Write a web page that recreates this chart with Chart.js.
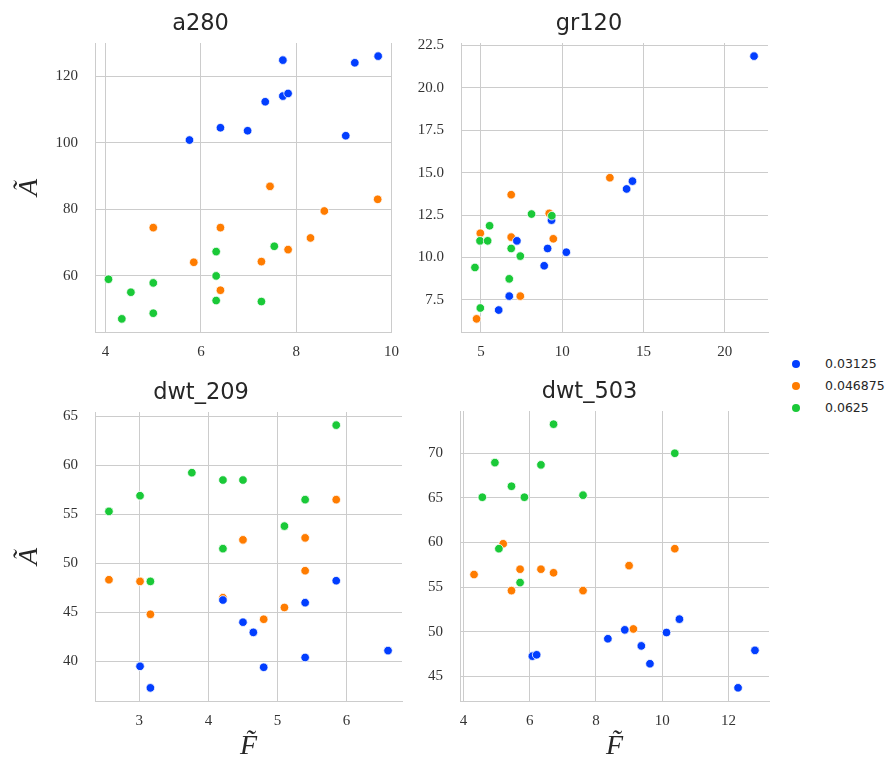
<!DOCTYPE html>
<html>
<head>
<meta charset="utf-8">
<script src="https://cdn.jsdelivr.net/npm/chart.js@4.4.1/dist/chart.umd.min.js"></script>
<style>
    body { margin: 0; background: #ffffff; }
    #figure { position: relative; width: 891px; height: 763px; overflow: hidden; background: #ffffff; }
    #figure canvas { position: absolute; }
    .legend-row { position: absolute; font: 12.5px "DejaVu Sans", sans-serif; color: #262626; line-height: 16px; white-space: nowrap; }
    .legend-dot { position: absolute; width: 8px; height: 8px; border-radius: 50%; }
</style>
</head>
<body>
<div id="figure"></div>
<script>
// hue levels of the legend and their colours (seaborn "bright")
const seriesNames = ['0.03125', '0.046875', '0.0625'];
const seriesColors = ['#023eff', '#ff7c00', '#1ac938'];
const drawOrder = [1, 2, 0];

// a280
const a280Blue = [[5.76, 100.8], [6.41, 104.5], [6.98, 103.6], [7.35, 112.3], [7.72, 124.8], [7.72, 114.0], [7.83, 114.8], [9.04, 102.1], [9.23, 124.0], [9.72, 126.0]];
const a280Orange = [[5.0, 74.5], [5.85, 64.1], [6.41, 74.5], [6.41, 55.7], [7.27, 64.3], [7.45, 86.9], [7.83, 67.9], [8.30, 71.4], [8.59, 79.5], [9.71, 83.0]];
const a280Green = [[4.06, 59.0], [4.53, 55.1], [4.34, 47.1], [5.0, 57.9], [5.0, 48.8], [6.32, 67.3], [6.32, 60.0], [6.32, 52.6], [7.27, 52.3], [7.54, 68.9]];
const a280XTicks = [4, 6, 8, 10];
const a280YTicks = [60, 80, 100, 120];

// gr120
const gr120Blue = [[21.80, 21.87], [13.96, 14.04], [14.32, 14.5], [7.21, 10.98], [9.34, 12.2], [9.10, 10.53], [10.25, 10.31], [8.89, 9.51], [6.74, 7.72], [6.09, 6.90]];
const gr120Orange = [[12.93, 14.7], [6.86, 13.7], [4.96, 11.43], [6.86, 11.2], [9.2, 12.6], [9.45, 11.1], [7.42, 7.72], [4.73, 6.38]];
const gr120Green = [[5.53, 11.87], [4.94, 10.98], [5.41, 10.98], [8.11, 12.56], [9.36, 12.46], [6.86, 10.53], [7.42, 10.08], [4.63, 9.41], [6.74, 8.74], [4.96, 7.02]];
const gr120XTicks = [5, 10, 15, 20];
const gr120YTicks = [7.5, 10, 12.5, 15, 17.5, 20, 22.5];

// dwt_209
const dwt209Blue = [[3.01, 39.5], [3.16, 37.3], [4.21, 46.26], [4.50, 44.0], [4.65, 42.96], [4.80, 39.4], [5.40, 40.4], [5.40, 45.99], [5.85, 48.23], [6.60, 41.1]];
const dwt209Orange = [[2.56, 48.33], [3.01, 48.16], [3.16, 44.8], [4.21, 46.5], [4.50, 52.4], [4.80, 44.3], [5.10, 45.5], [5.40, 52.6], [5.40, 49.25], [5.85, 56.5]];
const dwt209Green = [[2.56, 55.3], [3.01, 56.9], [3.16, 48.16], [3.76, 59.25], [4.21, 58.5], [4.50, 58.5], [4.21, 51.5], [5.10, 53.8], [5.40, 56.5], [5.85, 64.1]];
const dwt209XTicks = [3, 4, 5, 6];
const dwt209YTicks = [40, 45, 50, 55, 60, 65];

// dwt_503
const dwt503Blue = [[6.08, 47.25], [6.21, 47.4], [8.36, 49.2], [8.87, 50.2], [9.37, 48.4], [9.63, 46.4], [10.13, 49.9], [10.52, 51.4], [12.29, 43.7], [12.80, 47.9]];
const dwt503Orange = [[4.32, 56.4], [5.2, 59.85], [5.45, 54.6], [5.71, 57.0], [6.34, 57.0], [6.72, 56.6], [7.61, 54.6], [9.0, 57.4], [9.13, 50.3], [10.38, 59.3]];
const dwt503Green = [[6.72, 73.26], [4.95, 68.95], [6.34, 68.7], [5.45, 66.3], [4.57, 65.07], [5.84, 65.07], [7.61, 65.3], [10.38, 70.0], [5.07, 59.3], [5.71, 55.5]];
const dwt503XTicks = [4, 6, 8, 10, 12];
const dwt503YTicks = [45, 50, 55, 60, 65, 70];

const xLabel = 'F\u0303';
const yLabel = '\u00C3';

// box = canvas [left, top, right, bottom], plot = plot area [left, top, right, bottom]
const panels = [
    { title: 'a280', series: [a280Blue, a280Orange, a280Green], xTicks: a280XTicks, yTicks: a280YTicks, decimals: 0,
      box: [0, 0, 410, 370], plot: [95, 43, 401, 332], showY: true, showX: false },
    { title: 'gr120', series: [gr120Blue, gr120Orange, gr120Green], xTicks: gr120XTicks, yTicks: gr120YTicks, decimals: 1,
      box: [410, 0, 780, 370], plot: [461, 43, 768, 332], showY: false, showX: false },
    { title: 'dwt_209', series: [dwt209Blue, dwt209Orange, dwt209Green], xTicks: dwt209XTicks, yTicks: dwt209YTicks, decimals: 0,
      box: [0, 370, 410, 763], plot: [95, 412, 402, 701], showY: true, showX: true },
    { title: 'dwt_503', series: [dwt503Blue, dwt503Orange, dwt503Green], xTicks: dwt503XTicks, yTicks: dwt503YTicks, decimals: 0,
      box: [410, 370, 780, 763], plot: [460, 411, 769, 701], showY: false, showX: true }
];

const TITLE_SIZE = 22.5;
const TITLE_PAD = 5;
const titleHeight = TITLE_SIZE * 1.2 + TITLE_PAD * 2;
const gridColor = '#cccccc';
const tickFont = { family: '"Liberation Serif", serif', size: 15 };
const labelFont = { family: '"Liberation Serif", serif', size: 28, style: 'italic' };

function paddedRange(series, key) {
    const values = [];
    series.forEach(function (pts) {
        pts.forEach(function (p) { values.push(p[key]); });
    });
    const lo = Math.min.apply(null, values);
    const hi = Math.max.apply(null, values);
    const margin = (hi - lo) * 0.05;
    return [lo - margin, hi + margin];
}

const figure = document.getElementById('figure');

panels.forEach(function (panel) {
    const [bl, bt, br, bb] = panel.box;
    const [pl, pt, pr, pb] = panel.plot;
    const canvas = document.createElement('canvas');
    canvas.width = br - bl;
    canvas.height = bb - bt;
    canvas.style.left = bl + 'px';
    canvas.style.top = bt + 'px';
    figure.appendChild(canvas);

    const xRange = paddedRange(panel.series, 0);
    const yRange = paddedRange(panel.series, 1);
    const yWidth = pl - bl;
    const xHeight = bb - pb;

    new Chart(canvas, {
        type: 'scatter',
        data: {
            datasets: panel.series.map(function (pts, i) {
                return {
                    label: seriesNames[i],
                    data: pts.map(function (p) { return { x: p[0], y: p[1] }; }),
                    backgroundColor: seriesColors[i],
                    borderColor: '#ffffff',
                    borderWidth: 0.8,
                    pointRadius: 4.3,
                    pointHoverRadius: 4.3,
                    order: drawOrder[i]
                };
            })
        },
        options: {
            responsive: false,
            animation: false,
            events: [],
            layout: {
                padding: { left: 0, right: br - pr, top: pt - bt - titleHeight, bottom: 0 }
            },
            plugins: {
                legend: { display: false },
                tooltip: { enabled: false },
                title: {
                    display: true,
                    text: panel.title,
                    color: '#262626',
                    font: { family: '"DejaVu Sans", sans-serif', size: TITLE_SIZE, weight: 'normal' },
                    padding: { top: TITLE_PAD, bottom: TITLE_PAD }
                }
            },
            scales: {
                x: {
                    type: 'linear',
                    min: xRange[0],
                    max: xRange[1],
                    afterBuildTicks: function (scale) {
                        scale.ticks = panel.xTicks.map(function (v) { return { value: v }; });
                    },
                    afterFit: function (scale) { scale.height = xHeight; },
                    grid: { color: gridColor, lineWidth: 1, drawTicks: false },
                    border: { color: gridColor, width: 1 },
                    ticks: {
                        padding: 11,
                        color: '#333333',
                        font: tickFont,
                        maxRotation: 0,
                        autoSkip: false,
                        callback: function (value) { return String(value); }
                    },
                    title: {
                        display: panel.showX,
                        text: xLabel,
                        color: '#262626',
                        font: labelFont,
                        padding: { top: 0, bottom: 0 }
                    }
                },
                y: {
                    type: 'linear',
                    min: yRange[0],
                    max: yRange[1],
                    afterBuildTicks: function (scale) {
                        scale.ticks = panel.yTicks.map(function (v) { return { value: v }; });
                    },
                    afterFit: function (scale) { scale.width = yWidth; },
                    grid: { color: gridColor, lineWidth: 1, drawTicks: false },
                    border: { color: gridColor, width: 1 },
                    ticks: {
                        padding: 17,
                        color: '#333333',
                        font: tickFont,
                        autoSkip: false,
                        callback: function (value) { return Number(value).toFixed(panel.decimals); }
                    },
                    title: {
                        display: panel.showY,
                        text: yLabel,
                        color: '#262626',
                        font: labelFont,
                        padding: { top: 13, bottom: 0 }
                    }
                }
            }
        }
    });
});

// figure legend on the right
seriesNames.forEach(function (name, i) {
    const row = document.createElement('div');
    row.className = 'legend-row';
    row.style.left = '825px';
    row.style.top = (364 + 22 * i - 8) + 'px';
    row.textContent = name;
    const dot = document.createElement('span');
    dot.className = 'legend-dot';
    dot.style.background = seriesColors[i];
    dot.style.left = '-33px';
    dot.style.top = '4px';
    row.appendChild(dot);
    figure.appendChild(row);
});
</script>
</body>
</html>
